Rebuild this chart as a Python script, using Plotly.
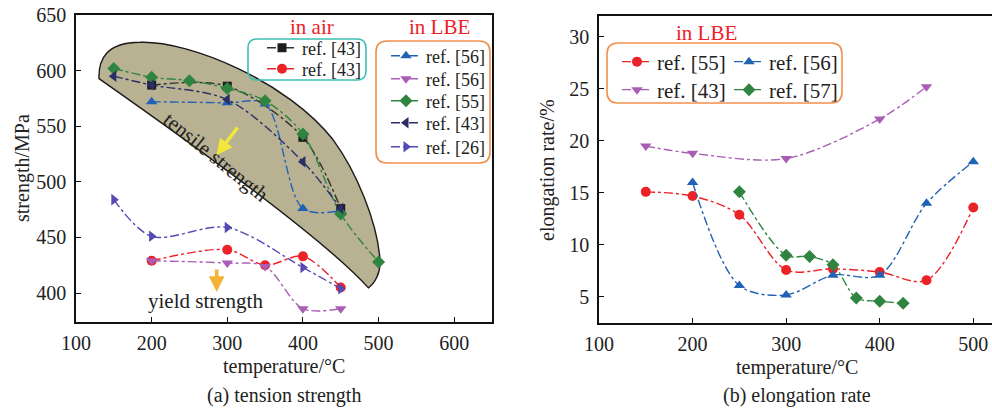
import plotly.graph_objects as go

W, H = 992, 410
FONT = "Liberation Serif"

# ---------------- data: (a) tension strength ----------------
air43_tensile_T = [200, 300, 400, 450]
air43_tensile = [587, 586, 540, 476]
air43_yield_T = [200, 300, 350, 400, 450]
air43_yield = [429, 439, 425, 433, 405]
lbe56_tensile_T = [200, 300, 350, 400, 450]
lbe56_tensile = [572, 571, 570, 476, 474]
lbe56_yield_T = [200, 300, 350, 400, 450]
lbe56_yield = [429, 427, 424, 386, 386]
lbe55_tensile_T = [150, 200, 250, 300, 350, 400, 450, 500]
lbe55_tensile = [602, 594, 591, 584, 573, 543, 471, 428]
lbe43_tensile_T = [150, 200, 300, 400, 450]
lbe43_tensile = [595, 587, 574, 518, 476]
lbe26_T = [150, 200, 300, 400, 450]
lbe26 = [484, 451, 459, 423, 404]

# ---------------- data: (b) elongation rate ----------------
el55_T = [150, 200, 250, 300, 350, 400, 450, 500]
el55 = [15.1, 14.7, 12.9, 7.6, 7.7, 7.4, 6.6, 13.6]
el56_T = [200, 250, 300, 350, 400, 450, 500]
el56 = [16.0, 6.1, 5.2, 7.1, 7.1, 14.0, 18.0]
el43_T = [150, 200, 300, 400, 450]
el43 = [19.5, 18.8, 18.3, 22.1, 25.2]
el57_T = [250, 300, 325, 350, 375, 400, 425]
el57 = [15.1, 9.0, 8.9, 8.1, 4.9, 4.6, 4.4]

left_xticks = [100, 200, 300, 400, 500, 600]
left_yticks = [400, 450, 500, 550, 600, 650]
right_xticks = [100, 200, 300, 400, 500]
right_yticks = [5, 10, 15, 20, 25, 30]

C_BLACK = "#1e1e1e"
C_RED = "#ec2229"
C_BLUE = "#2262b4"
C_PURPLE = "#a95db5"
C_GREEN = "#2f8540"
C_NAVY = "#2b2d66"
C_VIOLET = "#5549b3"


def px(x):
    return x / W


def py(y):
    return 1 - y / H


fig = go.Figure()
legends = {}
leg_count = [0]


def add(xs, ys, name, color, symbol, xa, ya, lx, ly, fsize, lcolor=None, size=10):
    leg_count[0] += 1
    key = "legend" if leg_count[0] == 1 else f"legend{leg_count[0]}"
    legends[key] = dict(x=px(lx - 39), y=py(ly - 19.5), xanchor="left", yanchor="top",
                        bgcolor="rgba(0,0,0,0)", borderwidth=0,
                        font=dict(family=FONT, size=fsize, color="#222"))
    fig.add_trace(go.Scatter(
        x=xs, y=ys, name=name, mode="lines+markers", showlegend=True,
        line=dict(color=lcolor or color, width=1.4, dash="dashdot", shape="spline", smoothing=0.9),
        marker=dict(color=color, symbol=symbol, size=size),
        xaxis=xa, yaxis=ya, legend=key,
    ))


# left panel  (lx, ly = pixel position of legend text start / row centre)
add(air43_tensile_T, air43_tensile, "ref. [43]", C_BLACK, "square", "x", "y", 301, 49, 18, lcolor="#333", size=9)
add(air43_yield_T, air43_yield, "ref. [43]", C_RED, "circle", "x", "y", 301, 70, 18)
add(lbe56_tensile_T, lbe56_tensile, "ref. [56]", C_BLUE, "triangle-up", "x", "y", 425, 57, 18)
add(lbe56_yield_T, lbe56_yield, "ref. [56]", C_PURPLE, "triangle-down", "x", "y", 425, 80, 18)
add(lbe55_tensile_T, lbe55_tensile, "ref. [55]", C_GREEN, "diamond", "x", "y", 425, 102, 18)
add(lbe43_tensile_T, lbe43_tensile, "ref. [43]", C_NAVY, "triangle-left", "x", "y", 425, 124, 18)
add(lbe26_T, lbe26, "ref. [26]", C_VIOLET, "triangle-right", "x", "y", 425, 148, 18)

# right panel
add(el55_T, el55, "ref. [55]", C_RED, "circle", "x2", "y2", 656, 61, 21)
add(el56_T, el56, "ref. [56]", C_BLUE, "triangle-up", "x2", "y2", 768, 61, 21)
add(el43_T, el43, "ref. [43]", C_PURPLE, "triangle-down", "x2", "y2", 656, 89, 21)
add(el57_T, el57, "ref. [57]", C_GREEN, "diamond", "x2", "y2", 768, 89, 21)

axis_common = dict(
    showgrid=False, zeroline=False, showline=True, linecolor="#111", linewidth=1.6,
    ticks="inside", ticklen=5, tickwidth=1.2, tickcolor="#111", automargin=False,
    tickfont=dict(family=FONT, size=20, color="#222"),
)

fig.update_layout(
    width=W, height=H,
    showlegend=True,
    margin=dict(l=0, r=0, t=0, b=0, autoexpand=False),
    paper_bgcolor="white", plot_bgcolor="white",
    font=dict(family=FONT, color="#222"),
    xaxis=dict(domain=[px(76), px(492)], range=[100, 650], tickvals=left_xticks,
               anchor="y", mirror=True, ticklabelstandoff=2, **axis_common),
    yaxis=dict(domain=[py(322), py(15)], range=[374, 650], tickvals=left_yticks,
               anchor="x", mirror=True, ticklabelstandoff=4, **axis_common),
    xaxis2=dict(domain=[px(599), 1.0], range=[100, 520], tickvals=right_xticks,
                anchor="y2", mirror=True, ticklabelstandoff=2, **axis_common),
    yaxis2=dict(domain=[py(323), py(16)], range=[2.5, 32], tickvals=right_yticks,
                anchor="x2", mirror=False, ticklabelstandoff=4, **axis_common),
    **legends,
)


def rrect(x0, y0, x1, y1, r, color):
    path = (
        f"M {px(x0 + r)},{py(y0)} L {px(x1 - r)},{py(y0)} "
        f"Q {px(x1)},{py(y0)} {px(x1)},{py(y0 + r)} L {px(x1)},{py(y1 - r)} "
        f"Q {px(x1)},{py(y1)} {px(x1 - r)},{py(y1)} L {px(x0 + r)},{py(y1)} "
        f"Q {px(x0)},{py(y1)} {px(x0)},{py(y1 - r)} L {px(x0)},{py(y0 + r)} "
        f"Q {px(x0)},{py(y0)} {px(x0 + r)},{py(y0)} Z"
    )
    return dict(type="path", xref="paper", yref="paper", path=path,
                line=dict(color=color, width=1.6), fillcolor="rgba(0,0,0,0)", layer="above")


shapes = [
    # shaded tensile-strength region (decorative outline, data coords)
    dict(type="path", xref="x", yref="y", layer="below",
         path=("M 130.4,592.8 C 129.5,610 140,625.5 185,625.5 "
               "C 250,627 380,590 440,537.8 "
               "C 470,510 498,465 502,430 "
               "C 503,418 495,409 486.6,404.7 "
               "C 440,440 300,512 130.4,592.8 Z"),
         fillcolor="#b8b293", line=dict(color="#1a1a1a", width=1.4)),
    rrect(248, 39, 366, 80, 9, "#3cc0b4"),
    rrect(376, 41, 490, 163, 11, "#f0904c"),
    rrect(607, 43, 842, 103, 11, "#f0904c"),
]
fig.update_layout(shapes=shapes)

ann = []


def text(x, y, s, size=20, color="#222", angle=0):
    ann.append(dict(x=px(x), y=py(y), xref="paper", yref="paper", text=s, showarrow=False,
                    font=dict(family=FONT, size=size, color=color), textangle=angle,
                    xanchor="center", yanchor="middle"))


text(312, 27, "in air", 21, C_RED)
text(439, 27, "in LBE", 21, C_RED)
text(706, 33, "in LBE", 21, C_RED)
text(216, 157, "tensile strength", 21, "#222", 39)
text(205, 301, "yield strength", 21, "#222")
text(284, 366, "temperature/°C", 20)
text(797, 367, "temperature/°C", 20)
text(23, 168, "strength/MPa", 20, angle=-90)
text(548, 170, "elongation rate/%", 20, angle=-90)
text(284, 395, "(a) tension strength", 20)
text(797, 395, "(b) elongation rate", 20)

# arrows
ann.append(dict(x=px(216.7), y=py(155), xref="paper", yref="paper", ax=22, ay=-29,
                showarrow=True, arrowhead=2, arrowsize=0.9, arrowwidth=3.5, arrowcolor="#f1e83a", text=""))
ann.append(dict(x=px(216.7), y=py(292), xref="paper", yref="paper", ax=0, ay=-24,
                showarrow=True, arrowhead=2, arrowsize=0.9, arrowwidth=3.5, arrowcolor="#f5b335", text=""))

fig.update_layout(annotations=ann)

fig.write_html("out.html", config={"displayModeBar": False},
               post_script="document.body.style.margin='0';")
